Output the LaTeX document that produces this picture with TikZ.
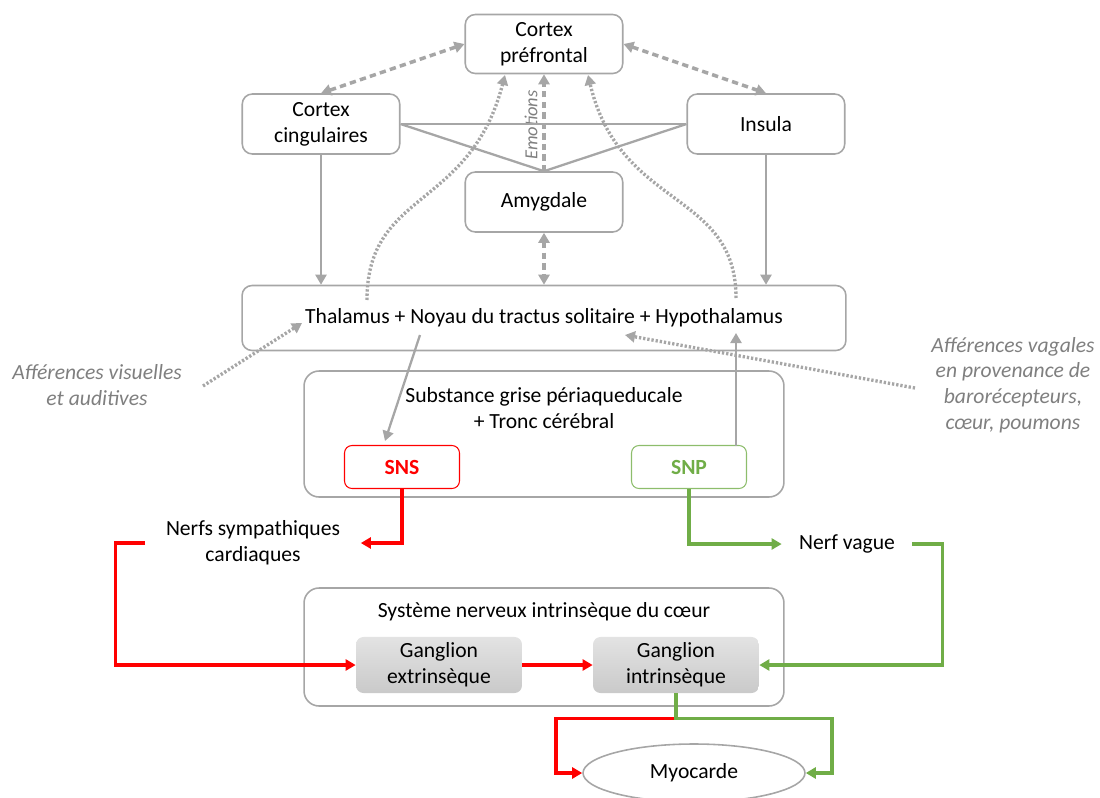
\documentclass[tikz,border=0pt]{standalone}
\usepackage{fontspec}
\setmainfont{Carlito}
\usetikzlibrary{arrows.meta,shapes.geometric}
\definecolor{linegray}{HTML}{A6A6A6}
\definecolor{textgray}{HTML}{7F7F7F}
\definecolor{snsred}{HTML}{FF0000}
\definecolor{snpgreen}{HTML}{70AD47}

\begin{document}
\begin{tikzpicture}[x=0.02cm, y=-0.02cm, >={Triangle[length=2mm,width=2.2mm]},
				font=\fontsize{12.3}{14.7}\selectfont,
				brainbox/.style={rectangle, rounded corners=2mm, draw=linegray, line width=0.9pt, minimum width=3.15cm, minimum height=1.18cm, align=center},
				region/.style={rectangle, rounded corners=3mm, draw=linegray, line width=0.9pt},
				sysbox/.style={rectangle, rounded corners=1.5mm, line width=0.6pt, minimum width=2.3cm, minimum height=0.86cm},
				ganglion/.style={rectangle, rounded corners=1.5mm, top color=gray!22, bottom color=gray!42, minimum width=3.32cm, minimum height=1.1cm, align=center},
				nerve/.style={rectangle, align=center, inner sep=0pt},
				afferent/.style={rectangle, align=center, text=textgray, font=\fontsize{12.3}{14.7}\selectfont\itshape},
				link/.style={draw=linegray, line width=1.3pt},
				dashedlink/.style={draw=linegray, line width=2pt, dash pattern=on 3.6pt off 2.4pt},
				dottedlink/.style={draw=linegray, line width=1.9pt, dash pattern=on 1.3pt off 1.1pt},
				sns/.style={draw=snsred, line width=1.9pt},
				snp/.style={draw=snpgreen, line width=1.9pt}]
	\useasboundingbox (0,0) rectangle (1100,798);
	% cerveau
	\node[brainbox] (CP) at (544,44) {Cortex\\préfrontal};
	\node[brainbox, minimum height=1.2cm] (CC) at (321,124) {Cortex\\cingulaires};
	\node[brainbox, minimum height=1.2cm] (IN) at (766,124) {Insula};
	\node[brainbox, minimum height=1.2cm] (AM) at (544,202) {Amygdale};
	\node[region, rounded corners=2mm, minimum width=12.08cm, minimum height=1.3cm] (TH) at (544,318) {Thalamus + Noyau du tractus solitaire + Hypothalamus};
	\node[region, minimum width=9.6cm, minimum height=2.52cm] (SG) at (544,434) {};
	\node[align=center] (SGtxt) at (544,408) {Substance grise périaqueducale\\+ Tronc cérébral};
	\node[sysbox, draw=snsred, text=snsred] (SNS) at (402,467) {\textbf{SNS}};
	\node[sysbox, draw=snpgreen!80, text=snpgreen] (SNP) at (689,467) {\textbf{SNP}};
	\node[rotate=90, text=textgray, font=\fontsize{10.5}{12}\selectfont\itshape] (EMO) at (531,125) {Emotions};
	% afferences
	\node[afferent] (AV) at (97,385) {Afférences visuelles\\et auditives};
	\node[afferent] (AVG) at (1013,385) {Afférences vagales\\en provenance de\\barorécepteurs,\\cœur, poumons};
	% nerfs et coeur
	\node[nerve, minimum width=4.3cm] (NSC) at (253,543) {Nerfs sympathiques\\cardiaques};
	\node[nerve, minimum width=2.6cm] (NV) at (847,544) {Nerf vague};
	\node[region, minimum width=9.6cm, minimum height=2.36cm] (SN) at (544,647) {};
	\node (SNtxt) at (544,612) {Système nerveux intrinsèque du cœur};
	\node[ganglion] (GE) at (439,665) {Ganglion\\extrinsèque};
	\node[ganglion] (GI) at (676,665) {Ganglion\\intrinsèque};
	\node[ellipse, draw=linegray, line width=0.9pt, minimum width=4.44cm, minimum height=1.16cm] (MY) at (694,773) {Myocarde};
	% points libres
	\coordinate (thL) at (367,300);
	\coordinate (thR) at (736,298);
	\coordinate (cpL) at (505,75);
	\coordinate (cpR) at (588,75);
	\coordinate (avS) at (203,386);
	\coordinate (thW) at (302,323);
	\coordinate (vgS) at (915,388);
	\coordinate (thE) at (625,335);
	\coordinate (thS) at (420,335);
	\coordinate (snsT) at (385,441);
	\coordinate (snpT) at (736,446);
	\coordinate (thB) at (736,333);
	% liens
	\draw[<->, dashedlink] (CP.west) -- (CC.north);
	\draw[<->, dashedlink] (CP.east) -- (IN.north);
	\draw[->, dashedlink] (AM.north) -- (CP.south);
	\draw[<->, dashedlink] (AM.south) -- (TH.north);
	\draw[link] (CC.east) -- (IN.west);
	\draw[link] (CC.east) -- (AM.north) -- (IN.west);
	\draw[->, link] (CC.south) -- (TH.north -| CC.south);
	\draw[->, link] (IN.south) -- (TH.north -| IN.south);
	\draw[->, dottedlink] (thL) .. controls (367,190) and (470,210) .. (cpL);
	\draw[->, dottedlink] (thR) .. controls (736,190) and (620,210) .. (cpR);
	\draw[->, dottedlink] (avS) -- (thW);
	\draw[->, dottedlink] (vgS) -- (thE);
	\draw[->, link] (thS) -- (snsT);
	\draw[->, link] (snpT) -- (thB);
	\draw[->, sns] (SNS.south) |- (NSC.east);
	\draw[->, snp] (SNP.south) |- (NV.west);
	\draw[->, sns] (NSC.west) -- ++(-30,0) |- (GE.west);
	\draw[->, sns] (GE.east) -- (GI.west);
	\draw[->, snp] (NV.east) -- ++(30,0) |- (GI.east);
	\draw[->, sns] (GI.south) -- ++(0,25) -- ++(-120,0) |- (MY.west);
	\draw[->, snp] (GI.south) -- ++(0,25) -- ++(156,0) |- (MY.east);
\end{tikzpicture}
\end{document}
